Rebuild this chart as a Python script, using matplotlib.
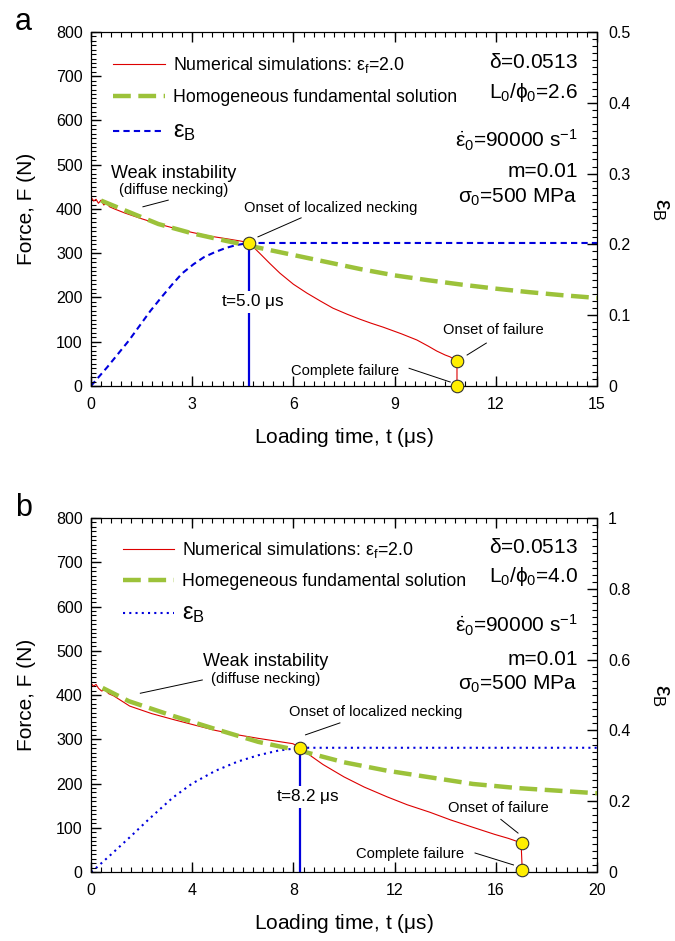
import numpy as np
import matplotlib
matplotlib.use("Agg")
import matplotlib.pyplot as plt
from matplotlib.ticker import MultipleLocator, FuncFormatter
from matplotlib.transforms import blended_transform_factory

plt.rcParams['font.family'] = ['Liberation Sans', 'DejaVu Sans']
plt.rcParams['mathtext.fontset'] = 'custom'
plt.rcParams['mathtext.rm'] = 'Liberation Sans'
plt.rcParams['mathtext.it'] = 'Liberation Sans'
plt.rcParams['mathtext.bf'] = 'Liberation Sans'

# panel a (L0/phi0 = 2.6)
t_num_a = [0, 0.08, 0.15, 0.22, 0.3, 0.38, 0.45, 0.55, 0.7, 1.0, 1.5, 2.0, 2.5, 3.0, 3.5, 4.0, 4.4, 4.68,
           5.0, 5.3, 5.6, 6.0, 6.4, 6.8, 7.17, 7.6, 7.97, 8.3, 8.66, 9.2, 9.66, 10.0, 10.25, 10.5, 10.64,
           10.85, 10.85]
F_num_a = [427, 418, 422, 413, 420, 409, 414, 405, 400, 391, 378, 366, 356, 347, 339, 333, 328, 324,
           300, 277, 255, 230, 210, 192, 176, 162, 151, 142, 133, 118, 104, 90, 79, 70, 66,
           57, 0]
t_hom_a = [0.3, 1, 2, 3, 4, 5, 6, 7, 8, 9, 10, 11, 12, 13, 14, 15]
F_hom_a = [419, 397, 366, 345, 328, 312, 296, 280, 264, 250, 239, 229, 220, 212, 205, 199]
t_eps_a = [0, 0.1, 0.48, 1.12, 1.76, 2.1, 2.4, 2.7, 3.04, 3.35, 3.67, 4.0, 4.3, 4.68, 15]
eps_a = [0, 0.0056, 0.0265, 0.064, 0.106, 0.126, 0.143, 0.159, 0.172, 0.182, 0.189, 0.195, 0.199, 0.202, 0.202]
pts_t_a = [4.68, 10.85, 10.85]
pts_F_a = [323, 57, 0]

# panel b (L0/phi0 = 4.0)
t_num_b = [0, 0.1, 0.2, 0.3, 0.42, 0.55, 0.7, 0.9, 1.53, 2.4, 3.23, 4.1, 4.92, 5.8, 6.62, 7.3, 7.98, 8.27,
           8.7, 9.17, 10.0, 10.8, 11.7, 12.5, 13.4, 14.2, 15.1, 15.96, 16.5, 17.0, 17.05]
F_num_b = [427, 420, 424, 415, 409, 412, 403, 398, 375, 358, 345, 332, 320, 310, 302, 296, 290, 281,
           262, 243, 215, 192, 170, 152, 135, 118, 101, 85, 76, 66, 0]
t_hom_b = [0.46, 1.5, 3.23, 4.92, 6.62, 8.27, 10.0, 11.7, 13.4, 15.1, 16.8, 20]
F_hom_b = [416, 386, 353, 323, 294, 274, 248, 229, 214, 199, 190, 178]
t_eps_b = [0, 0.17, 0.8, 1.53, 2.3, 3.23, 4.0, 4.92, 5.8, 6.62, 7.4, 8.27, 20]
eps_b = [0, 0.0094, 0.05, 0.098, 0.15, 0.21, 0.25, 0.286, 0.312, 0.33, 0.343, 0.351, 0.351]
pts_t_b = [8.27, 17.03, 17.03]
pts_F_b = [281, 66, 4]

red = '#dd0000'
green = '#9cc23a'
blue = '#0000dd'

FIG_W, FIG_H = 675, 941
MAJ, MIN = 9.7, 4.9   # tick lengths in pixels


def inward_ticks(host, trans, which, values, length, side):
    # tick marks pointing into the plot, all drawn on the epsilon axes
    w = host.get_position().width * FIG_W
    h = host.get_position().height * FIG_H
    lw = 1.0 if length == MAJ else 0.8
    if which == 'x':
        f = length / h
        y0, y1 = (0, f) if side == 'bottom' else (1 - f, 1)
        host.vlines(values, y0, y1, transform=trans, colors='black', lw=lw, clip_on=False, zorder=6)
    else:
        f = length / w
        x0, x1 = (0, f) if side == 'left' else (1 - f, 1)
        host.hlines(values, x0, x1, transform=trans, colors='black', lw=lw, clip_on=False, zorder=6)


def panel(fig, rect, letter, t_num, F_num, t_hom, F_hom, t_eps, eps, pts_t, pts_F,
          xmax, xstep, emax, estep, ratio, tlabel, blue_ls, notes):
    ax2 = fig.add_axes(rect)
    ax = ax2.twinx()
    ax.yaxis.tick_left()
    ax.yaxis.set_label_position('left')
    ax2.yaxis.tick_right()
    ax2.yaxis.set_label_position('right')

    l3, = ax2.plot(t_eps, eps, color=blue, lw=1.5, ls=blue_ls)
    l1, = ax.plot(t_num, F_num, color=red, lw=0.8)
    l2, = ax.plot(t_hom, F_hom, color=green, lw=3.2, dashes=(4.0, 1.7))
    ax.plot([pts_t[0], pts_t[0]], [0, pts_F[0]], color=blue, lw=1.6)
    ax.plot(pts_t, pts_F, 'o', ms=9, mfc='#ffee00', mec='#333333', mew=0.8, clip_on=False, zorder=7)

    ax.set_xlim(0, xmax)
    ax.set_ylim(0, 800)
    ax2.set_ylim(0, emax)
    xmaj, ymaj, emaj = MultipleLocator(xstep), MultipleLocator(100), MultipleLocator(estep)
    ax2.xaxis.set_major_locator(xmaj)
    ax.yaxis.set_major_locator(ymaj)
    ax2.yaxis.set_major_locator(emaj)
    for a in (ax, ax2):
        a.tick_params(which='both', direction='in', length=0, colors='black', labelsize=11.5)
        a.minorticks_off()
    ax2.tick_params(axis='x', pad=8)
    ax.tick_params(axis='y', pad=6)
    ax2.tick_params(axis='y', pad=8)
    ax2.yaxis.set_major_formatter(FuncFormatter(lambda v, p: '%g' % v))

    xm = [v for v in xmaj.tick_values(0, xmax) if 0 <= v <= xmax]
    xn = [v for v in MultipleLocator(xstep / 10).tick_values(0, xmax) if 0 <= v <= xmax]
    ym = [v for v in ymaj.tick_values(0, 800) if 0 <= v <= 800]
    yn = [v for v in MultipleLocator(10).tick_values(0, 800) if 0 <= v <= 800]
    em = [v for v in emaj.tick_values(0, emax) if 0 <= v <= emax * 1.0001]
    en = [v for v in MultipleLocator(estep / 10).tick_values(0, emax) if 0 <= v <= emax * 1.0001]
    xtr = ax2.get_xaxis_transform()
    ftr = blended_transform_factory(ax2.transAxes, ax.transData)
    etr = ax2.get_yaxis_transform()
    for side in ('bottom', 'top'):
        inward_ticks(ax2, xtr, 'x', xn, MIN, side)
        inward_ticks(ax2, xtr, 'x', xm, MAJ, side)
    inward_ticks(ax2, ftr, 'y', yn, MIN, 'left')
    inward_ticks(ax2, ftr, 'y', ym, MAJ, 'left')
    inward_ticks(ax2, etr, 'y', en, MIN, 'right')
    inward_ticks(ax2, etr, 'y', em, MAJ, 'right')

    ax2.set_xlabel(r'Loading time, t ($\mu$s)', fontsize=15, labelpad=10)
    ax.set_ylabel('Force, F (N)', fontsize=15, labelpad=14)
    ax2.set_ylabel(r'$\varepsilon_B$', fontsize=17, rotation=-90, labelpad=30)

    leg = ax.legend([l1, l2, l3],
                    [r'Numerical simulations: $\varepsilon_f$=2.0', notes['hom'], r'$\varepsilon_B$'],
                    loc='upper left', bbox_to_anchor=notes['leg'], frameon=False, fontsize=12.8,
                    handlelength=2.9, handletextpad=0.45, labelspacing=notes['sp'], borderaxespad=0)
    leg.get_texts()[2].set_fontsize(17)

    ax.text(-0.15, 1.07, letter, transform=ax.transAxes, fontsize=22, va='top')

    params = [r'$\delta$=0.0513', r'L$_0$/$\phi_0$=' + ratio, r'$\dot{\varepsilon}_0$=90000 s$^{-1}$',
              'm=0.01', r'$\sigma_0$=500 MPa']
    for txt, yy in zip(params, notes['py']):
        ax.text(0.962, yy, txt, transform=ax.transAxes, ha='right', va='baseline', fontsize=15)

    ax.text(notes['t_xy'][0], notes['t_xy'][1], tlabel, ha='center', va='center', fontsize=12.3,
            bbox=dict(fc='white', ec='none', pad=1), zorder=6)
    ax.text(notes['weak'][0], notes['weak'][1], 'Weak instability', ha='center', va='center', fontsize=13)
    ax.text(notes['weak'][0], notes['weak'][1] - 38, '(diffuse necking)', ha='center', va='center', fontsize=10.7)
    ax.text(notes['loc'][0], notes['loc'][1], 'Onset of localized necking', ha='center', va='center', fontsize=10.6)
    ax.text(notes['fail'][0], notes['fail'][1], 'Onset of failure', ha='center', va='center', fontsize=10.6)
    ax.text(notes['comp'][0], notes['comp'][1], 'Complete failure', ha='center', va='center', fontsize=10.6)
    for seg in notes['lines']:
        ax.plot(seg[0], seg[1], color='black', lw=0.7)
    return ax


fig = plt.figure(figsize=(6.75, 9.41), dpi=100)

panel(fig, [0.1348, 0.5898, 0.7496, 0.3762], 'a', t_num_a, F_num_a, t_hom_a, F_hom_a, t_eps_a, eps_a,
      pts_t_a, pts_F_a, 15, 3, 0.5, 0.1, '2.6', r't=5.0 $\mu$s', (0, (3.0, 2.0)),
      {'hom': 'Homogeneous fundamental solution', 'leg': (0.03, 0.955), 'sp': 0.8,
       'py': [0.898, 0.814, 0.675, 0.590, 0.517],
       't_xy': (4.8, 190), 'weak': (2.46, 480), 'loc': (7.12, 402), 'fail': (11.92, 127), 'comp': (7.54, 34),
       'lines': [([1.54, 2.29], [405, 420]), ([4.95, 6.23], [337, 380]),
                 ([11.15, 11.72], [70, 97]), ([9.43, 10.65], [40, 9])]})

panel(fig, [0.1348, 0.0733, 0.7496, 0.3762], 'b', t_num_b, F_num_b, t_hom_b, F_hom_b, t_eps_b, eps_b,
      pts_t_b, pts_F_b, 20, 4, 1.0, 0.2, '4.0', r't=8.2 $\mu$s', (0, (1.0, 2.0)),
      {'hom': 'Homegeneous fundamental solution', 'leg': (0.049, 0.958), 'sp': 0.72,
       'py': [0.901, 0.819, 0.678, 0.585, 0.514],
       't_xy': (8.58, 170), 'weak': (6.92, 475), 'loc': (11.24, 362), 'fail': (16.1, 145), 'comp': (12.62, 41),
       'lines': [([1.95, 4.4], [404, 434]), ([8.48, 9.84], [310, 337]),
                 ([16.88, 16.2], [88, 119]), ([15.18, 16.7], [43, 16])]})

fig.savefig('out.png', dpi=100)
